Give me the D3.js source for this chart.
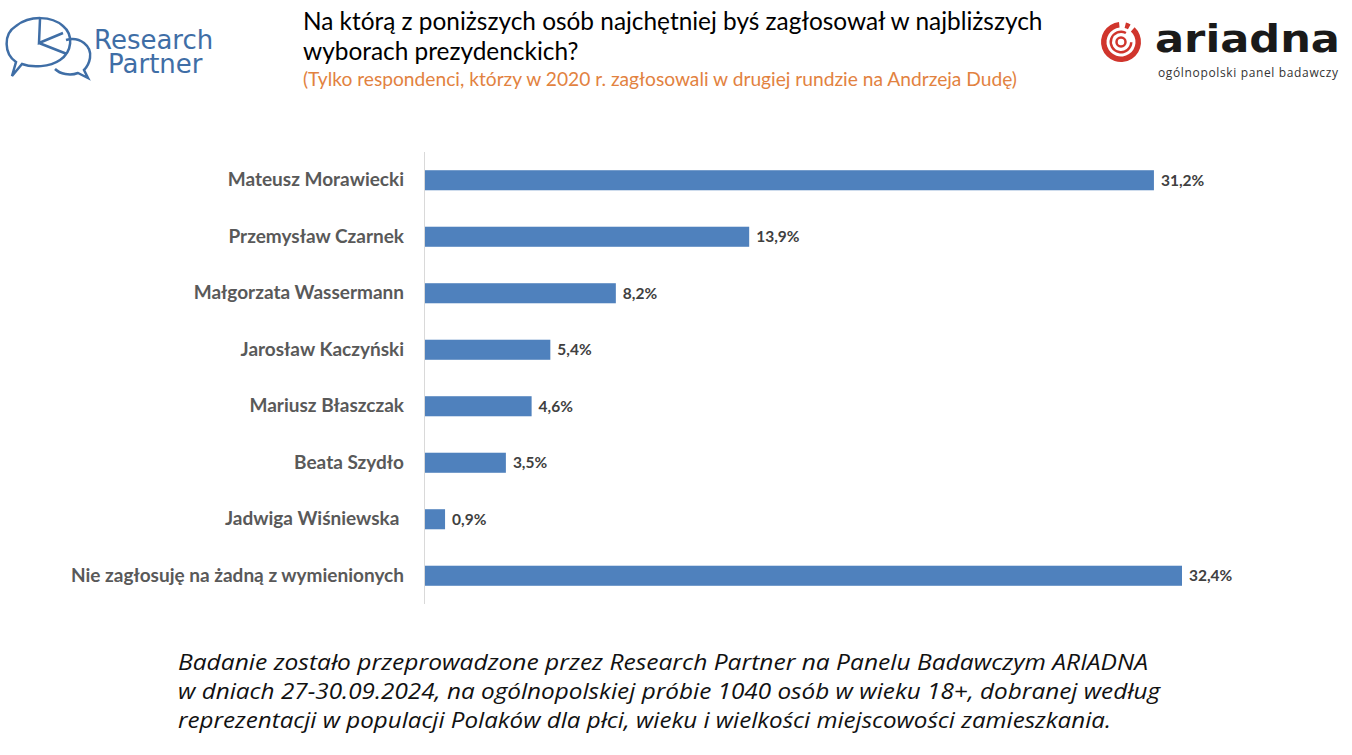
<!DOCTYPE html>
<html>
<head>
<meta charset="utf-8">
<script src="https://cdn.jsdelivr.net/npm/d3@7"></script>
<style>
  body { margin: 0; background: #fff; }
  svg { display: block; }
</style>
</head>
<body>
<svg width="1352" height="755"></svg>
<script>
const svg = d3.select("svg");
const width = +svg.attr("width");
const height = +svg.attr("height");

// data
const candidates = [
  "Mateusz Morawiecki",
  "Przemysław Czarnek",
  "Małgorzata Wassermann",
  "Jarosław Kaczyński",
  "Mariusz Błaszczak",
  "Beata Szydło",
  "Jadwiga Wiśniewska\u00a0",
  "Nie zagłosuję na żadną z wymienionych",
];
const shares = [31.2, 13.9, 8.2, 5.4, 4.6, 3.5, 0.9, 32.4];

const titleLines = [
  "Na którą z poniższych osób najchętniej byś zagłosował w najbliższych",
  "wyborach prezydenckich?",
];
const subtitle = "(Tylko respondenci, którzy w 2020 r. zagłosowali w drugiej rundzie na Andrzeja Dudę)";
const noteLines = [
  "Badanie zostało przeprowadzone przez Research Partner na Panelu Badawczym ARIADNA",
  "w dniach 27-30.09.2024, na ogólnopolskiej próbie 1040 osób w wieku 18+, dobranej według",
  "reprezentacji w populacji Polaków dla płci, wieku i wielkości miejscowości zamieszkania.",
];
const noteWidths = [970, 982, 933];

const data = candidates.map((c, i) => ({ name: c, value: shares[i] }));

const margin = { top: 152, left: 424, right: 1352 - 1182, bottom: 755 - 604 };
const innerWidth = width - margin.left - margin.right;
const innerHeight = height - margin.top - margin.bottom;

// scales
const xScale = d3.scaleLinear().domain([0, 32.4]).range([0, innerWidth]);
const yScale = d3
  .scaleBand()
  .domain(data.map((d) => d.name))
  .range([0, innerHeight])
  .paddingInner(0.645)
  .paddingOuter(0.3225);

const g = svg
  .append("g")
  .attr("transform", `translate(${margin.left},${margin.top})`);

// bars
g.selectAll("rect.bar")
  .data(data)
  .enter()
  .append("rect")
  .attr("class", "bar")
  .attr("x", 0)
  .attr("y", (d) => yScale(d.name))
  .attr("width", (d) => xScale(d.value))
  .attr("height", yScale.bandwidth())
  .attr("fill", "#4f81bd");

// axis line + category labels
const yAxis = d3.axisLeft(yScale).tickSize(0).tickPadding(20);
const yAxisG = g.append("g").call(yAxis);
yAxisG.select(".domain").attr("stroke", "#d9d9d9").attr("d", `M0.5,0V${innerHeight}`);
yAxisG
  .selectAll("text")
  .attr("font-family", "Lato, 'Open Sans', sans-serif")
  .attr("font-weight", "bold")
  .attr("font-size", 19)
  .attr("fill", "#595959")
  .style("white-space", "pre");

// value labels
g.selectAll("text.val")
  .data(data)
  .enter()
  .append("text")
  .attr("class", "val")
  .attr("x", (d) => xScale(d.value) + 7)
  .attr("y", (d) => yScale(d.name) + yScale.bandwidth() / 2)
  .attr("dy", "0.36em")
  .attr("font-family", "Lato, 'Open Sans', sans-serif")
  .attr("font-weight", "bold")
  .attr("font-size", 15.5)
  .attr("fill", "#404040")
  .text((d) => d.value.toFixed(1).replace(".", ",") + "%");

// title
svg
  .append("g")
  .selectAll("text")
  .data(titleLines)
  .enter()
  .append("text")
  .attr("x", 303)
  .attr("y", (d, i) => 30 + i * 30)
  .attr("font-family", "Lato, sans-serif")
  .attr("font-size", 24.4)
  .attr("fill", "#000")
  .text((d) => d);

svg
  .append("text")
  .attr("x", 303)
  .attr("y", 86)
  .attr("font-family", "Lato, sans-serif")
  .attr("font-size", 18.5)
  .attr("fill", "#e2823f")
  .attr("textLength", 714)
  .attr("lengthAdjust", "spacingAndGlyphs")
  .text(subtitle);

// footnote
svg
  .append("g")
  .selectAll("text")
  .data(noteLines)
  .enter()
  .append("text")
  .attr("x", 178)
  .attr("y", (d, i) => 670 + i * 29)
  .attr("font-family", "'Open Sans', sans-serif")
  .attr("font-style", "italic")
  .attr("font-size", 21.5)
  .attr("fill", "#111")
  .attr("textLength", (d, i) => noteWidths[i])
  .attr("lengthAdjust", "spacingAndGlyphs")
  .text((d) => d);

// Research Partner logo
const rp = svg.append("g").attr("fill", "none").attr("stroke", "#3f6ea6").attr("stroke-width", 2.5);
rp.append("path").attr(
  "d",
  "M16,62 C4,54 3,34 16,26 C30,15 52,16 63,26 C74,35 72,52 60,60 C50,67 32,68 22,64 L12,76 Z"
);
rp.append("path").attr(
  "d",
  "M66,40 C80,36 92,46 90,58 C89,64 86,68 84,70 L88,78 L78,73 C70,76 60,74 55,69"
);
rp.append("path").attr("d", "M40,19 L39,43 L63,33 M39,43 L67,54");
svg
  .append("text")
  .attr("x", 94)
  .attr("y", 49)
  .attr("font-family", "'DejaVu Sans', sans-serif")
  .attr("font-size", 26)
  .attr("fill", "#3f6ea6")
  .text("Research");
svg
  .append("text")
  .attr("x", 108)
  .attr("y", 73)
  .attr("font-family", "'DejaVu Sans', sans-serif")
  .attr("font-size", 26)
  .attr("fill", "#3f6ea6")
  .text("Partner");

// ARIADNA logo
const ar = svg.append("g").attr("transform", "translate(1121,42)");
const arc = d3.arc();
ar.append("path")
  .attr("fill", "#d0352c")
  .attr("d", arc({ innerRadius: 14.5, outerRadius: 20, startAngle: 0.75, endAngle: 2 * Math.PI - 0.1 }));
ar.append("path")
  .attr("fill", "#d0352c")
  .attr("d", arc({ innerRadius: 14.5, outerRadius: 20, startAngle: 0.25, endAngle: 0.5 }));
ar.append("path")
  .attr("fill", "#d0352c")
  .attr("d", arc({ innerRadius: 9, outerRadius: 11.5, startAngle: 1.6, endAngle: 2 * Math.PI + 0.5 }));
ar.append("circle").attr("r", 4.5).attr("fill", "none").attr("stroke", "#d0352c").attr("stroke-width", 2.5);
svg
  .append("text")
  .attr("x", 1155)
  .attr("y", 52)
  .attr("font-family", "'DejaVu Sans', sans-serif")
  .attr("font-weight", "bold")
  .attr("font-size", 37)
  .attr("fill", "#1a1a1a")
  .attr("textLength", 185)
  .attr("lengthAdjust", "spacingAndGlyphs")
  .text("ariadna");
svg
  .append("text")
  .attr("x", 1158)
  .attr("y", 77)
  .attr("font-family", "'Open Sans', sans-serif")
  .attr("font-size", 12)
  .attr("fill", "#333")
  .attr("textLength", 180)
  .text("ogólnopolski panel badawczy");
</script>
</body>
</html>
